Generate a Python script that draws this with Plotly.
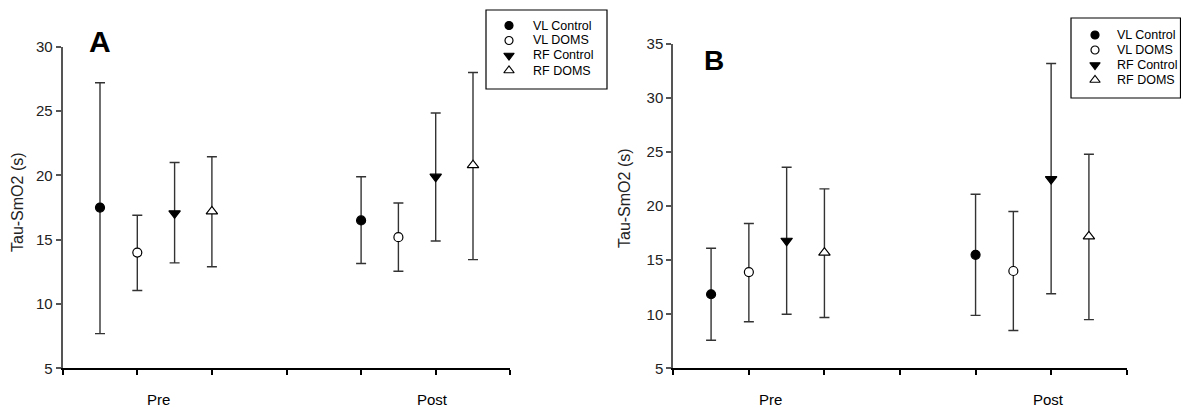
import plotly.graph_objects as go

# ---------------- data ----------------
series_names = ["VL Control", "VL DOMS", "RF Control", "RF DOMS"]
x_pos = [[0.5, 4.0], [1.0, 4.5], [1.5, 5.0], [2.0, 5.5]]  # Pre / Post positions of each series
time_labels = ["Pre", "Post"]
time_label_pos = [1.28, 4.96]

# Panel A (mean, upper, lower)
a_mean = [[17.5, 16.5], [14.0, 15.2], [17.05, 19.9], [17.2, 20.8]]
a_upper = [[27.2, 19.9], [16.9, 17.85], [21.0, 24.85], [21.45, 28.0]]
a_lower = [[7.7, 13.15], [11.05, 12.55], [13.2, 14.9], [12.9, 13.45]]

# Panel B
b_mean = [[11.85, 15.5], [13.9, 14.0], [16.8, 22.5], [15.7, 17.2]]
b_upper = [[16.1, 21.1], [18.4, 19.5], [23.6, 33.2], [21.6, 24.8]]
b_lower = [[7.6, 9.9], [9.3, 8.5], [10.0, 11.9], [9.7, 9.5]]

a_yticks = [5, 10, 15, 20, 25, 30]
b_yticks = [5, 10, 15, 20, 25, 30, 35]
y_title = "Tau-SmO2 (s)"

# ---------------- styles ----------------
FONT = "Arial, Liberation Sans, sans-serif"
symbols = ["circle", "circle", "triangle-down", "triangle-up"]
fills = ["black", "white", "black", "white"]
W, H = 1181, 407


def px(xp):
    return xp / W


def py(yp):
    return 1 - yp / H


def msize(sym):
    return 9 if sym == "circle" else 10


fig = go.Figure()


def add_panel(means, uppers, lowers, xa, ya):
    for i, name in enumerate(series_names):
        m = means[i]
        up = [u - v for u, v in zip(uppers[i], m)]
        dn = [v - l for l, v in zip(lowers[i], m)]
        fig.add_trace(go.Scatter(
            x=x_pos[i], y=m, mode="markers", name=name,
            xaxis=xa, yaxis=ya, showlegend=False,
            marker=dict(symbol=symbols[i], size=msize(symbols[i]),
                        color=fills[i], line=dict(color="black", width=1.2)),
            error_y=dict(type="data", symmetric=False, array=up, arrayminus=dn,
                         color="#333333", thickness=1.4, width=5),
        ))


add_panel(a_mean, a_upper, a_lower, "x", "y")
add_panel(b_mean, b_upper, b_lower, "x2", "y2")

# ---- legends drawn on small helper axes (pixel-unit ranges) ----
legend_boxes = [  # (left, top, right, bottom, marker_x, text_x, first_row_y, xaxis, yaxis)
    (486, 10, 607, 89, 509, 531, 25.5, "x3", "y3"),
    (1071, 18, 1180.5, 98, 1095, 1115, 35, "x4", "y4"),
]
shapes = []
annotations = []
ROW = 15
for (l, t, r, b, mx, tx, ry, xa, ya) in legend_boxes:
    shapes.append(dict(type="rect", xref="paper", yref="paper",
                       x0=px(l), x1=px(r), y0=py(b), y1=py(t),
                       line=dict(color="black", width=1.2), fillcolor="white", layer="below"))
    for i, name in enumerate(series_names):
        yy = ry + i * ROW
        fig.add_trace(go.Scatter(
            x=[mx], y=[yy], mode="markers", xaxis=xa, yaxis=ya, showlegend=False,
            hoverinfo="skip",
            marker=dict(symbol=symbols[i], size=msize(symbols[i]) - 1, color=fills[i],
                        line=dict(color="black", width=1.2))))
        annotations.append(dict(x=px(tx), y=py(yy), xref="paper", yref="paper", text=name,
                                showarrow=False, xanchor="left", yanchor="middle",
                                font=dict(family=FONT, size=12.5, color="black")))

axis_common = dict(showgrid=False, zeroline=False, ticks="outside", ticklen=5, automargin=False,
                   tickfont=dict(family=FONT, size=15, color="#222"))

xaxis_common = dict(range=[0, 6], showgrid=False, zeroline=False, automargin=False,
                    tickvals=[0, 1, 2, 3, 4, 5, 6], ticktext=[""] * 7,
                    ticks="outside", ticklen=5, tickcolor="black", tickwidth=1.5,
                    showline=True, linecolor="black", linewidth=1.5)

hidden = dict(visible=False, showgrid=False, zeroline=False, fixedrange=True)

fig.update_layout(
    width=W, height=H,
    margin=dict(l=0, r=0, t=0, b=0),
    paper_bgcolor="white", plot_bgcolor="rgba(0,0,0,0)",
    font=dict(family=FONT, color="black"),
    showlegend=False,
    xaxis=dict(domain=[px(62.7), px(510.3)], anchor="y", **xaxis_common),
    xaxis2=dict(domain=[px(673.3), px(1126.7)], anchor="y2", **xaxis_common),
    yaxis=dict(domain=[py(368.3), py(46.8)], anchor="x", range=[5, 30], tickvals=a_yticks,
               showline=True, linecolor="#555", linewidth=2, tickcolor="#555", tickwidth=1.5,
               **axis_common),
    yaxis2=dict(domain=[py(368.3), py(44)], anchor="x2", range=[5, 35], tickvals=b_yticks,
                showline=True, linecolor="#555", linewidth=2, tickcolor="#555", tickwidth=1.5,
                **axis_common),
    xaxis3=dict(domain=[px(486), px(607)], range=[486, 607], anchor="y3", **hidden),
    yaxis3=dict(domain=[py(89), py(10)], range=[89, 10], anchor="x3", **hidden),
    xaxis4=dict(domain=[px(1071), px(1178)], range=[1071, 1178], anchor="y4", **hidden),
    yaxis4=dict(domain=[py(98), py(18)], range=[98, 18], anchor="x4", **hidden),
)

for xa, xref in (("x", "x"), ("x2", "x2")):
    for lbl, pos in zip(time_labels, time_label_pos):
        annotations.append(dict(x=pos, y=py(399), xref=xref, yref="paper", text=lbl,
                                showarrow=False, xanchor="center", yanchor="middle",
                                font=dict(family=FONT, size=15, color="black")))
annotations.append(dict(x=px(17), y=py(202), xref="paper", yref="paper", text=y_title,
                        textangle=-90, showarrow=False, xanchor="center", yanchor="middle",
                        font=dict(family=FONT, size=16, color="#222")))
annotations.append(dict(x=px(624), y=py(198), xref="paper", yref="paper", text=y_title,
                        textangle=-90, showarrow=False, xanchor="center", yanchor="middle",
                        font=dict(family=FONT, size=16, color="#222")))
annotations.append(dict(x=px(100), y=py(41), xref="paper", yref="paper", text="<b>A</b>",
                        showarrow=False, xanchor="center", yanchor="middle",
                        font=dict(family=FONT, size=30, color="black")))
annotations.append(dict(x=px(714), y=py(61), xref="paper", yref="paper", text="<b>B</b>",
                        showarrow=False, xanchor="center", yanchor="middle",
                        font=dict(family=FONT, size=28, color="black")))
fig.update_layout(annotations=annotations, shapes=shapes)

fig.write_html("out.html", config={"displayModeBar": False},
               post_script="document.body.style.margin='0';document.body.style.overflow='hidden';")
